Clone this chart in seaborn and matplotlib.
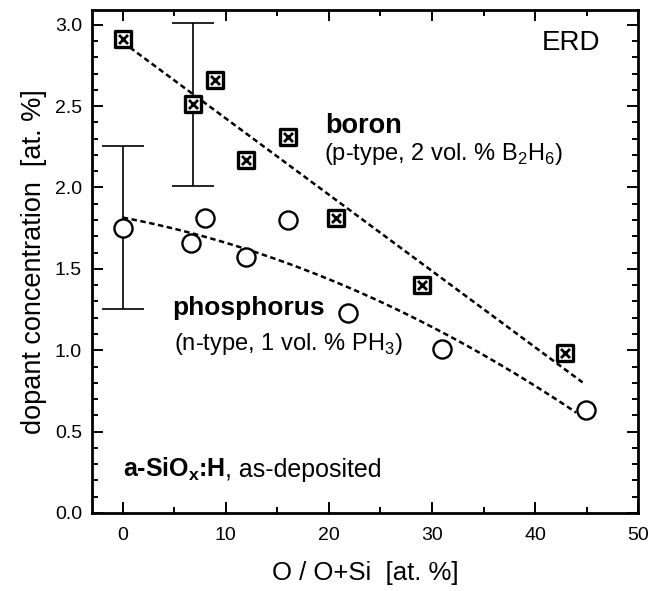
import numpy as np
import pandas as pd
import seaborn as sns
import matplotlib
matplotlib.use("Agg")
import matplotlib.pyplot as plt
from matplotlib.ticker import MultipleLocator, FormatStrFormatter

# Boron-doped films (p-type, B2H6)
boron_x = [0.0, 6.8, 9.0, 12.0, 16.0, 20.7, 29.0, 42.9]
boron_y = [2.91, 2.51, 2.66, 2.17, 2.31, 1.81, 1.40, 0.98]

# Phosphorus-doped films (n-type, PH3)
phos_x = [0.0, 6.6, 8.0, 12.0, 16.0, 21.9, 31.0, 44.9]
phos_y = [1.75, 1.66, 1.81, 1.57, 1.80, 1.23, 1.01, 0.63]

# Representative uncertainty bars
err_x = [0.0, 6.8]
err_y = [1.755, 2.51]
err_size = [0.5, 0.5]

boron = pd.DataFrame({"x": boron_x, "y": boron_y})
phos = pd.DataFrame({"x": phos_x, "y": phos_y})

sns.set_theme(style="ticks")
plt.rcParams["font.family"] = ["Liberation Sans", "DejaVu Sans"]
plt.rcParams["mathtext.fontset"] = "custom"
plt.rcParams["mathtext.rm"] = "Liberation Sans"
plt.rcParams["mathtext.bf"] = "Liberation Sans:bold"
plt.rcParams["text.color"] = "black"
plt.rcParams["axes.labelcolor"] = "black"

fig = plt.figure(figsize=(6.6, 5.91), dpi=100)
ax = fig.add_axes([0.139, 0.132, 0.828, 0.851])

# Trend lines fitted to each series
dash = (0, (2.2, 1.4))
xb = np.linspace(0, 44.6, 100)
pb = np.polyfit(boron_x, boron_y, 1)
ax.plot(xb, np.polyval(pb, xb), color="black", lw=1.8, ls=dash, zorder=2)
xp = np.linspace(0, 44.0, 100)
pp = np.polyfit(phos_x, phos_y, 2)
ax.plot(xp, np.polyval(pp, xp), color="black", lw=1.8, ls=dash, zorder=2)

ax.errorbar(err_x, err_y, yerr=err_size, fmt="none", ecolor="black",
            elinewidth=1.2, capsize=15, capthick=1.2, zorder=3)

sns.scatterplot(data=phos, x="x", y="y", ax=ax, marker="o", s=170,
                facecolor="white", edgecolor="black", linewidth=1.7, zorder=4)
sns.scatterplot(data=boron, x="x", y="y", ax=ax, marker="s", s=135,
                facecolor="white", edgecolor="black", linewidth=2.4, zorder=4)
sns.scatterplot(data=boron, x="x", y="y", ax=ax, marker="x", s=42,
                color="black", linewidth=2.0, zorder=5)

ax.set_xlim(-3, 50)
ax.set_ylim(0, 3.09)
ax.xaxis.set_major_locator(MultipleLocator(10))
ax.xaxis.set_minor_locator(MultipleLocator(5))
ax.yaxis.set_major_locator(MultipleLocator(0.5))
ax.yaxis.set_minor_locator(MultipleLocator(0.1))
ax.yaxis.set_major_formatter(FormatStrFormatter("%.1f"))
ax.tick_params(which="both", direction="in", top=True, right=True,
               labelsize=14, width=1.4, colors="black")
ax.tick_params(which="major", length=8)
ax.tick_params(axis="x", which="major", pad=10)
ax.tick_params(axis="y", which="major", pad=7)
ax.tick_params(which="minor", length=4.5)
for s in ax.spines.values():
    s.set_linewidth(2.0)
    s.set_color("black")

ax.set_xlabel("O / O+Si  [at. %]", fontsize=18.5, labelpad=12)
ax.set_ylabel("dopant concentration  [at. %]", fontsize=19.5, labelpad=6)

ax.text(46.3, 2.89, "ERD", fontsize=20, ha="right", va="center")
ax.text(19.65, 2.336, "boron", fontsize=19.5, fontweight="bold", ha="left", va="baseline")
ax.text(19.5, 2.17, r"(p-type, 2 vol. % B$_2$H$_6$)", fontsize=17, ha="left", va="baseline")
ax.text(19.65, 1.217, "phosphorus", fontsize=19, fontweight="bold", ha="right", va="baseline")
ax.text(27.2, 1.0, r"(n-type, 1 vol. % PH$_3$)", fontsize=17, ha="right", va="baseline")

# Sample label: bold material name followed by regular-weight condition
mat = ax.text(0.0, 0.22, r"a-SiO$_\mathbf{x}$:H", fontsize=18, fontweight="bold",
              ha="left", va="baseline")
fig.canvas.draw()
bb = mat.get_window_extent(renderer=fig.canvas.get_renderer())
x_end = ax.transData.inverted().transform((bb.x1, bb.y0))[0]
ax.text(x_end, 0.22, ", as-deposited", fontsize=18, ha="left", va="baseline")

fig.savefig("out.png", dpi=100)
